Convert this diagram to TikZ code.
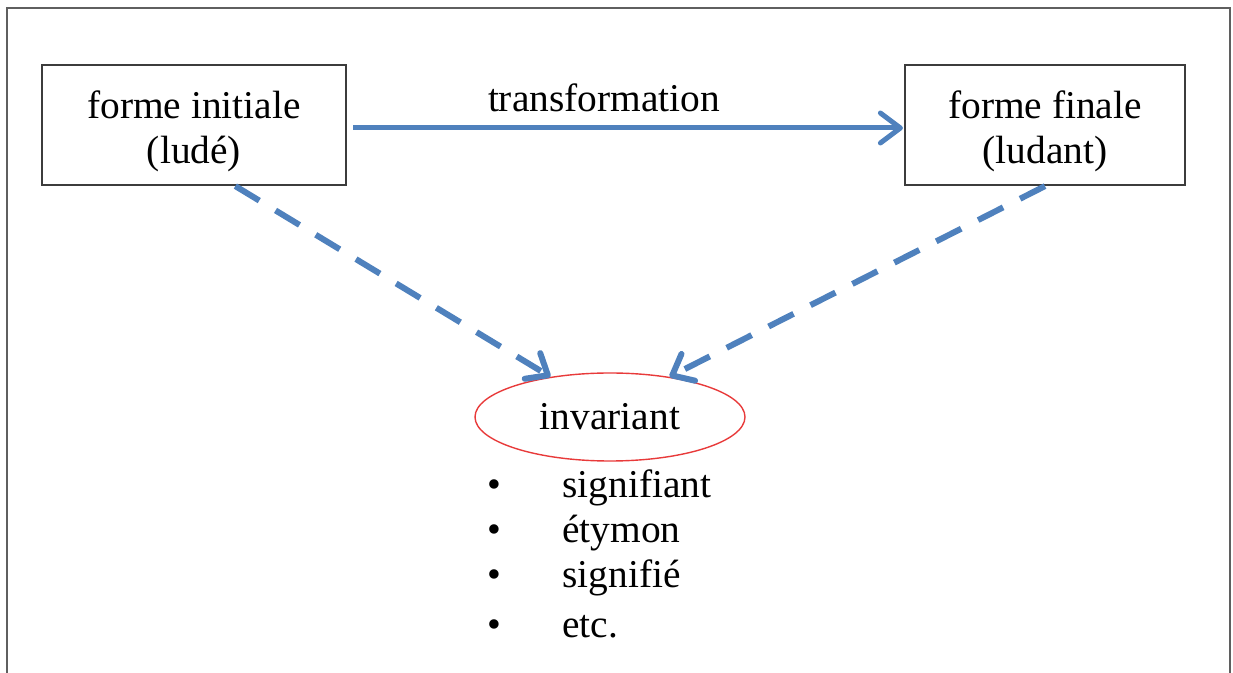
\documentclass[tikz,border=0pt]{standalone}
\usepackage{fontspec}
\setmainfont{Liberation Serif}
\usetikzlibrary{arrows.meta,shapes.geometric,calc}
\definecolor{arrowblue}{RGB}{79,129,189}
\definecolor{ovalred}{RGB}{232,58,58}
\definecolor{framegray}{RGB}{95,95,95}
\definecolor{boxgray}{RGB}{60,60,60}
\newcommand{\topstrut}{\rule{0pt}{19.8pt}}
\tikzset{
  formbox/.style={draw=boxgray, line width=1.1pt, minimum width=152pt, minimum height=60pt,
    inner sep=0pt, align=center, font=\fontsize{19.7}{22.5}\selectfont},
  txt/.style={font=\fontsize{19.7}{22.5}\selectfont, inner sep=0pt},
  bluearrow/.style={draw=arrowblue, line width=2.5pt,
    -{Straight Barb[length=10pt,width=15pt,round]}},
  dasharrow/.style={draw=arrowblue, line width=3pt, dash pattern=on 14pt off 9.5pt,
    -{Straight Barb[length=9pt,width=15pt,round]}},
}
\begin{document}
\begin{tikzpicture}[x=0.5pt,y=-0.5pt]
\useasboundingbox (0,0) rectangle (1233,673);
% outer frame (open at bottom)
\draw[framegray, line width=0.8pt] (7,673) -- (7,8) -- (1230,8) -- (1230,673);
% boxes
\node[formbox, minimum width=152pt] (L) at (194,125) {\topstrut forme initiale\\(ludé)};
\node[formbox, minimum width=140pt] (R) at (1045,125) {\topstrut forme finale\\(ludant)};
% ellipse
\node[draw=ovalred, line width=0.7pt, ellipse, minimum width=135pt, minimum height=44pt,
  inner sep=0pt, txt] (I) at (610,417) {invariant};
% label
\node[txt, anchor=base] (T) at (604,112) {transformation};
% arrows
\draw[bluearrow] ([xshift=3pt,yshift=-1.5pt]L.east) -- ([xshift=-0.5pt,yshift=-1.5pt]R.west);
\coordinate (Ls) at ($(L.south west)!0.635!(L.south east)$);
\draw[dasharrow] (Ls) -- (I.146);
\draw[dasharrow] (R.south) -- (I.34);
% list
\node[txt, anchor=base west, align=left] (list) at (487,638)
  {\makebox[37.5pt][l]{\textbullet}signifiant\\
   \makebox[37.5pt][l]{\textbullet}étymon\\
   \makebox[37.5pt][l]{\textbullet}signifié\\[2.5pt]
   \makebox[37.5pt][l]{\textbullet}etc.};
\end{tikzpicture}
\end{document}
